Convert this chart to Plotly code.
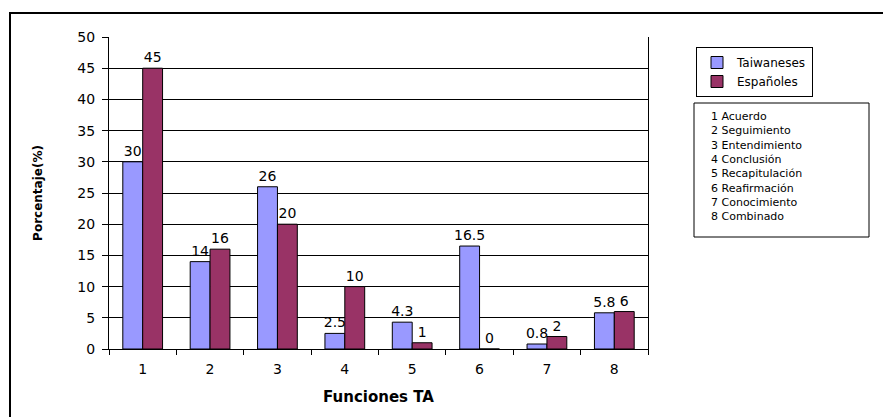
import plotly.graph_objects as go

categories = ["1", "2", "3", "4", "5", "6", "7", "8"]
taiwaneses = [30, 14, 26, 2.5, 4.3, 16.5, 0.8, 5.8]
espanoles = [45, 16, 20, 10, 1, 0, 2, 6]
y_ticks = [0, 5, 10, 15, 20, 25, 30, 35, 40, 45, 50]
funciones = ["1 Acuerdo", "2 Seguimiento", "3 Entendimiento", "4 Conclusión",
             "5 Recapitulación", "6 Reafirmación", "7 Conocimiento", "8 Combinado"]

FONT = "DejaVu Sans, Arial, sans-serif"

def px_x(p):
    return (p - 109) / 539

def px_y(p):
    return (349 - p) / 312

fig = go.Figure()
fig.add_trace(go.Bar(
    x=categories, y=taiwaneses, name="Taiwaneses",
    marker=dict(color="#9999FF", line=dict(color="#000000", width=1)),
    text=[str(v) for v in taiwaneses], textposition="outside", constraintext="none",
    textfont=dict(family=FONT, size=14, color="#000"), cliponaxis=False,
))
fig.add_trace(go.Bar(
    x=categories, y=espanoles, name="Españoles",
    marker=dict(color="#993366", line=dict(color="#000000", width=1)),
    text=[str(v) for v in espanoles], textposition="outside", constraintext="none",
    textfont=dict(family=FONT, size=14, color="#000"), cliponaxis=False,
))

fig.update_layout(
    width=883, height=417,
    margin=dict(l=109, r=235, t=37, b=68),
    paper_bgcolor="white", plot_bgcolor="white",
    barmode="group", bargap=0.41, bargroupgap=0,
    font=dict(family=FONT, color="#000"),
    legend=dict(
        x=px_x(696), y=px_y(47), xanchor="left", yanchor="top",
        bordercolor="#000", borderwidth=1, bgcolor="white",
        font=dict(family=FONT, size=12, color="#000"),
        tracegroupgap=0, itemwidth=30,
    ),
    xaxis=dict(
        type="category", tickson="boundaries", ticks="outside", ticklen=5,
        tickcolor="#000", showline=True, linecolor="#000", linewidth=1,
        tickfont=dict(family=FONT, size=14), showgrid=False, ticklabelstandoff=7,
        title=dict(text="<b>Funciones TA</b>", font=dict(family=FONT, size=15), standoff=15),
    ),
    yaxis=dict(
        range=[0, 50], tickvals=y_ticks, ticks="outside", ticklen=6, tickcolor="#000",
        showline=True, linecolor="#000", linewidth=1, mirror=True,
        showgrid=True, gridcolor="#000", gridwidth=1, zeroline=False,
        tickfont=dict(family=FONT, size=14), ticklabelstandoff=4,
        title=dict(text="<b>Porcentaje(%)</b>", font=dict(family=FONT, size=12), standoff=32),
    ),
    shapes=[
        dict(type="rect", xref="paper", yref="paper",
             x0=px_x(10), x1=px_x(950), y0=px_y(460), y1=px_y(13),
             line=dict(color="#000", width=2), layer="below"),
        dict(type="rect", xref="paper", yref="paper",
             x0=px_x(694), x1=px_x(869), y0=px_y(237), y1=px_y(103),
             line=dict(color="#000", width=1), fillcolor="white", layer="below"),
    ],
    annotations=[
        dict(xref="paper", yref="paper", x=px_x(709), y=px_y(108),
             xanchor="left", yanchor="top", showarrow=False, align="left", valign="top",
             text="<br>".join(funciones),
             font=dict(family=FONT, size=11, color="#000")),
    ],
)

fig.write_html("out.html")
